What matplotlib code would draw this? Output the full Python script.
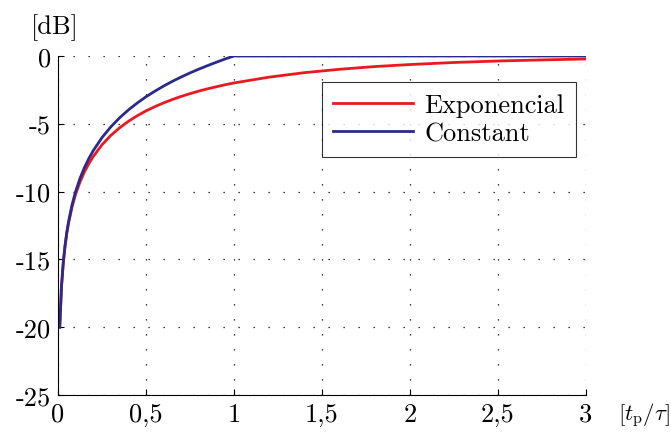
import matplotlib
matplotlib.use("Agg")
import matplotlib.pyplot as plt

plt.rcParams['font.family'] = 'serif'
plt.rcParams['font.serif'] = ['cmr10', 'DejaVu Serif']
plt.rcParams['mathtext.fontset'] = 'cm'
plt.rcParams['axes.unicode_minus'] = False

# valores
x_exp = [0.01, 0.02, 0.03, 0.04, 0.05, 0.06, 0.08, 0.1, 0.125, 0.15, 0.175, 0.2, 0.25,
         0.3, 0.35, 0.4, 0.45, 0.5, 0.55, 0.6, 0.65, 0.7, 0.75, 0.8, 0.85, 0.9, 0.95,
         1.0, 1.2, 1.4, 1.6, 1.8, 2.0, 2.25, 2.5, 2.75, 3.0]
y_exp = [-20.0, -17.0, -15.3, -14.07, -13.1, -12.35, -11.14, -10.2, -9.30, -8.56, -7.95,
         -7.42, -6.55, -5.86, -5.30, -4.82, -4.41, -4.05, -3.74, -3.46, -3.21, -2.98,
         -2.78, -2.59, -2.42, -2.27, -2.12, -1.99, -1.56, -1.23, -0.98, -0.78, -0.63,
         -0.48, -0.37, -0.29, -0.22]

x_const = [0.01, 0.02, 0.03, 0.04, 0.05, 0.06, 0.08, 0.1, 0.125, 0.15, 0.175, 0.2, 0.25,
           0.3, 0.35, 0.4, 0.45, 0.5, 0.55, 0.6, 0.65, 0.7, 0.75, 0.8, 0.85, 0.9, 0.95,
           1.0, 3.0]
y_const = [-20.0, -17.0, -15.23, -13.98, -13.0, -12.22, -10.97, -10.0, -9.03, -8.24,
           -7.57, -6.99, -6.02, -5.23, -4.56, -3.98, -3.47, -3.01, -2.60, -2.22, -1.87,
           -1.55, -1.25, -0.97, -0.71, -0.46, -0.22, 0.0, 0.0]

xticks = [0, 0.5, 1, 1.5, 2, 2.5, 3]
xticklabels = ['0', '0,5', '1', '1,5', '2', '2,5', '3']
yticks = [0, -5, -10, -15, -20, -25]
yticklabels = ['0', '-5', '-10', '-15', '-20', '-25']

fig = plt.figure(figsize=(6.71, 4.35), dpi=100)
ax = fig.add_axes([0.0864, 0.0897, 0.7869, 0.7793])

ax.plot(x_exp, y_exp, color='#e8191f', lw=2.0, label='Exponencial')
ax.plot(x_const, y_const, color='#2a2a8c', lw=2.0, label='Constant')

ax.set_xlim(0, 3)
ax.set_ylim(-25, 0)
ax.set_xticks(xticks)
ax.set_xticklabels(xticklabels)
ax.set_yticks(yticks)
ax.set_yticklabels(yticklabels)
ax.tick_params(direction='in', length=4, labelsize=19, pad=5, width=0.8)

ax.spines['top'].set_visible(False)
ax.spines['right'].set_visible(False)
ax.grid(True, color='black', linestyle=(0, (1, 11)), linewidth=0.9)
ax.set_axisbelow(True)

fig.text(0.046, 0.937, '[dB]', fontsize=19, ha='left', va='center')
fig.text(0.921, 0.044, r'$[t_{\mathrm{p}}/\tau]$', fontsize=16.5, ha='left', va='center')

leg = ax.legend(loc='upper right', bbox_to_anchor=(0.982, 0.924), fontsize=19,
                frameon=True, fancybox=False, edgecolor='black', handlelength=3.0,
                handletextpad=0.45, borderpad=0.45, labelspacing=0.15,
                borderaxespad=0)
leg.get_frame().set_linewidth(0.8)

fig.savefig('out.png', dpi=100)
